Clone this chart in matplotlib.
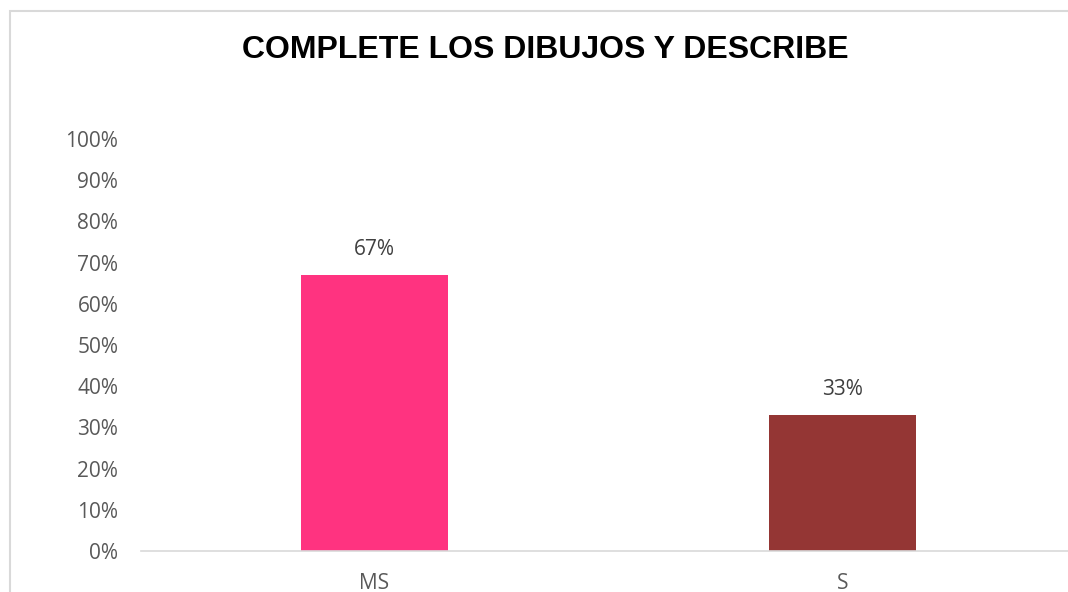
import matplotlib
matplotlib.use("Agg")
import matplotlib.pyplot as plt
from matplotlib.patches import Rectangle

categories = ["MS", "S"]
values = [0.67, 0.33]
bar_colors = ["#FF3380", "#943634"]
yticks = [0, 0.1, 0.2, 0.3, 0.4, 0.5, 0.6, 0.7, 0.8, 0.9, 1.0]
title = "COMPLETE LOS DIBUJOS Y DESCRIBE"

gray = "#595959"

fig = plt.figure(figsize=(10.68, 5.92), dpi=100)
ax = fig.add_axes([0.1316, 0.0693, 0.8764, 0.696])

x = list(range(len(categories)))
ax.bar(x, values, width=0.314, color=bar_colors, zorder=2)
for xi, v in zip(x, values):
    ax.annotate(f"{round(v * 100)}%", (xi, v), xytext=(0, 11), textcoords="offset points",
                ha="center", va="bottom", fontsize=15, color="#404040", family="Open Sans")

ax.set_xlim(-0.5, len(categories) - 0.5)
ax.set_ylim(0, 1)
ax.set_yticks(yticks)
ax.set_yticklabels([f"{int(round(t * 100))}%" for t in yticks])
ax.set_xticks(x)
ax.set_xticklabels(categories)
ax.tick_params(length=0, labelsize=15, colors=gray)
ax.tick_params(axis="y", pad=16)
ax.tick_params(axis="x", pad=16)
for lab in ax.get_xticklabels() + ax.get_yticklabels():
    lab.set_family("Open Sans")

for s in ["top", "right", "left"]:
    ax.spines[s].set_visible(False)
ax.spines["bottom"].set_color("#D9D9D9")
ax.spines["bottom"].set_linewidth(1.2)

fig.text(0.511, 0.915, title, ha="center", va="center", fontsize=23,
         fontweight="bold", family="Liberation Sans", color="black")

# outer chart border (cropped at right/bottom)
fig.patches.append(Rectangle((10 / 1068, -0.1), 1.2, (592 - 11) / 592 + 0.1,
                             transform=fig.transFigure, fill=False,
                             edgecolor="#D9D9D9", linewidth=1.5))

fig.savefig("out.png", dpi=100)
